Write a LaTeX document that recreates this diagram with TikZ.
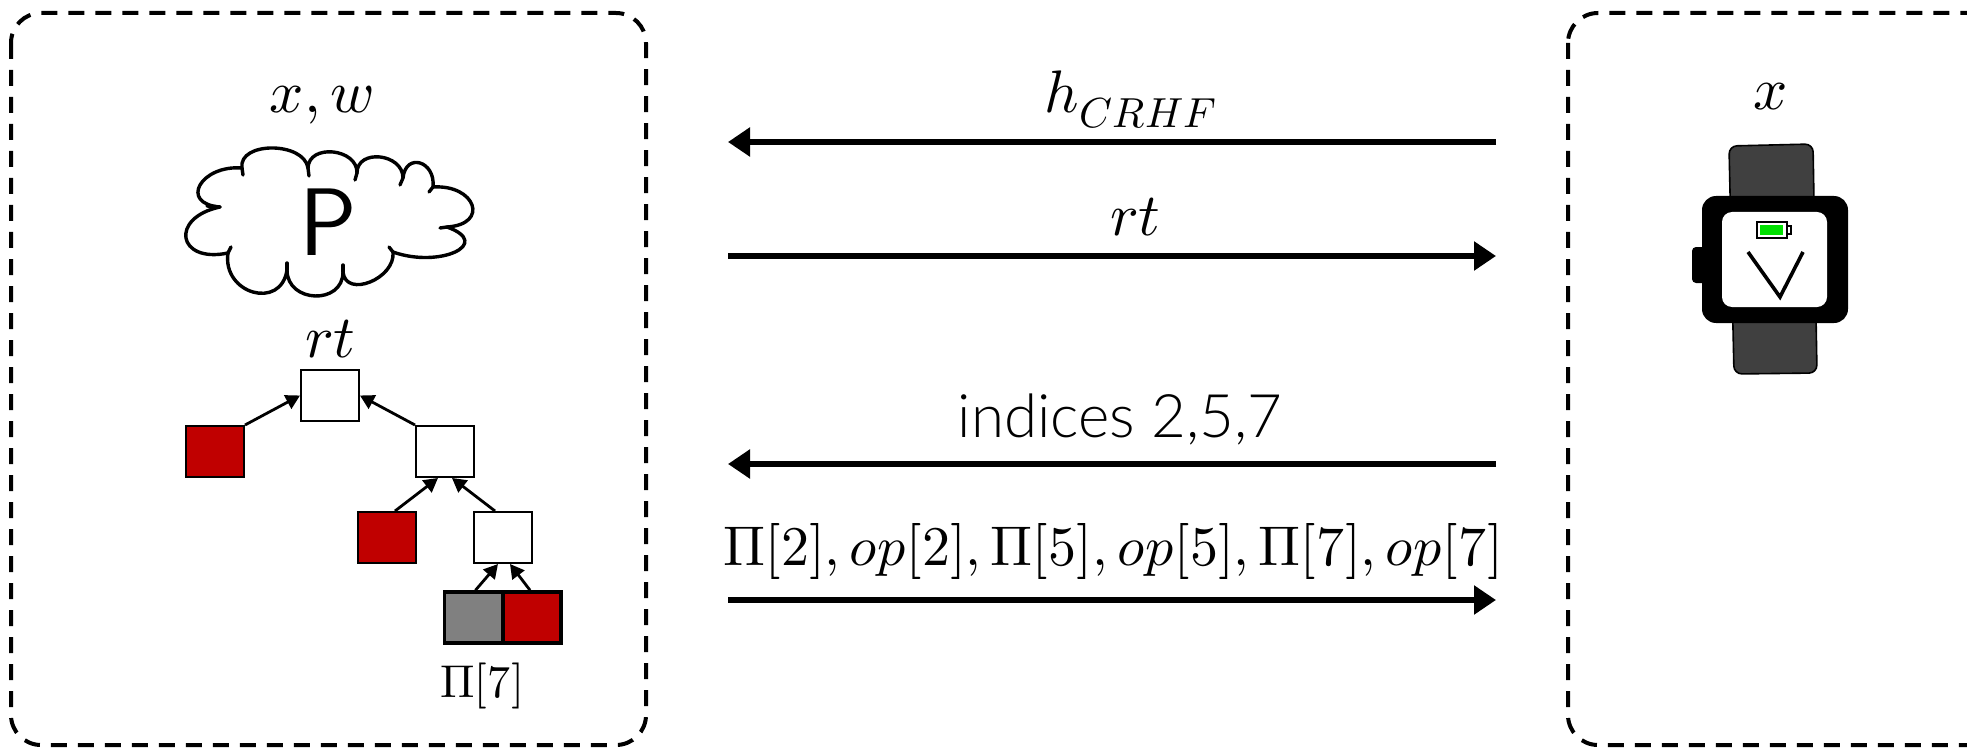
\documentclass[tikz,border=0pt]{standalone}
\usepackage{fontspec}
\usepackage{unicode-math}
\setmathfont{Latin Modern Math}
\newfontfamily\lightsf{Lato Light}
\usetikzlibrary{arrows.meta}
\definecolor{leafred}{HTML}{C00000}
\definecolor{sibgray}{HTML}{808080}
\definecolor{strapgray}{HTML}{404040}
\definecolor{battgreen}{HTML}{00E000}
\begin{document}
\begin{tikzpicture}[x=0.5pt,y=-0.5pt,
  party/.style={draw, line width=2pt, dash pattern=on 8pt off 5.5pt, rounded corners=15pt},
  msg/.style={line width=3.2pt, -{Triangle[length=11pt,width=14pt]}},
  treearrow/.style={line width=1.4pt, -{Triangle[length=7pt,width=7.5pt]}},
  hashbox/.style={draw, line width=1pt, minimum width=29pt, minimum height=25.5pt, inner sep=0pt},
  pathbox/.style={hashbox, line width=1.8pt},
  mathlbl/.style={anchor=base, inner sep=0pt, font=\fontsize{30}{36}\selectfont},
  textlbl/.style={anchor=base, inner sep=0pt, font=\fontsize{30}{36}\selectfont\lightsf},
  cloudline/.style={line width=1.7pt, line cap=round, line join=round}]
\useasboundingbox (0,0) rectangle (1967,749);
\clip (0,0) rectangle (1967,749);

% prover and verifier frames
\draw[party] (11,13) rectangle (646,745);
\draw[party] (1568,13) rectangle (2060,745);

% ---------- prover ----------
\node[mathlbl] (xw) at (322,113) {$x,w$};

% hand-drawn cloud
\draw[cloudline]
  (228,253) .. controls (177.3,263.7) and (169.3,217.7) .. (220,207)
  .. controls (178.7,203.7) and (200.7,164.7) .. (242,168)
  .. controls (238,141.3) and (304,141.3) .. (308,168)
  .. controls (308.7,143.3) and (357.7,148.3) .. (357,173)
  .. controls (357,148.3) and (403,153.3) .. (403,178)
  .. controls (405.7,152) and (435.7,161) .. (433,187)
  .. controls (475.7,184.3) and (489.7,224.3) .. (447,227)
  .. controls (493.7,243.7) and (439.7,268.7) .. (393,252)
  .. controls (395.7,278.7) and (345.7,298.7) .. (343,272)
  .. controls (343,305.3) and (287,303.3) .. (287,270)
  .. controls (281,310.7) and (222,293.7) .. (228,253) -- cycle;
% little inner strokes where the puffs meet
\draw[cloudline] (220,207) -- (207,206);
\draw[cloudline] (242,168) -- (243,175);
\draw[cloudline] (308,168) -- (309,176);
\draw[cloudline] (357,173) -- (355,180);
\draw[cloudline] (403,178) -- (400,185);
\draw[cloudline] (433,187) -- (429,192);
\draw[cloudline] (447,227) -- (440,228);
\draw[cloudline] (393,252) -- (389,247);
\draw[cloudline] (343,272) -- (343,265);
\draw[cloudline] (287,270) -- (287,263);
\draw[cloudline] (228,253) -- (231,247);
\node[inner sep=0pt, font=\fontsize{48}{56}\sffamily] (P) at (328,222) {P};

% Merkle tree
\node[mathlbl] (rtlbl) at (330,357) {$rt$};
\node[hashbox] (root) at (330,395.5) {};
\node[hashbox, fill=leafred] (s1) at (215,451.5) {};
\node[hashbox] (n1) at (445,451.5) {};
\node[hashbox, fill=leafred] (s2) at (386.5,537.5) {};
\node[hashbox] (n2) at (503,537.5) {};
\node[pathbox, fill=sibgray] (lf) at (473.5,617.5) {};
\node[pathbox, fill=leafred] (rf) at (532,617.5) {};
\draw[treearrow] (s1.north east) -- (root.west);
\draw[treearrow] (n1.north west) -- (root.east);
\draw[treearrow] ([xshift=4.25pt]s2.north) -- ([xshift=-3.5pt]n1.south);
\draw[treearrow] ([xshift=-4pt]n2.north) -- ([xshift=3.5pt]n1.south);
\draw[treearrow] ([xshift=1pt]lf.north) -- ([xshift=-2.5pt]n2.south);
\draw[treearrow] ([xshift=-1pt]rf.north) -- ([xshift=3.5pt]n2.south);
\node[mathlbl, font=\fontsize{23}{28}\selectfont] (pi7) at (482,697) {$\Pi[7]$};

% ---------- messages ----------
\coordinate (m1L) at (728,142); \coordinate (m1R) at (1496,142);
\coordinate (m2L) at (728,256); \coordinate (m2R) at (1496,256);
\coordinate (m3L) at (728,464); \coordinate (m3R) at (1496,464);
\coordinate (m4L) at (728,600); \coordinate (m4R) at (1496,600);
\draw[msg] (m1R) -- (m1L);
\draw[msg] (m2L) -- (m2R);
\draw[msg] (m3R) -- (m3L);
\draw[msg] (m4L) -- (m4R);
\node[mathlbl] (hlbl) at (1131,113) {$h_{CRHF}$};
\node[mathlbl] (rtmsg) at (1135,235) {$rt$};
\node[textlbl] (idx) at (1120,437) {indices 2,5,7};
\node[mathlbl, font=\fontsize{28}{34}\selectfont] (proofs) at (1113,565)
  {$\Pi[2],op[2],\Pi[5],op[5],\Pi[7],op[7]$};

% ---------- verifier (smartwatch) ----------
\node[mathlbl] (xv) at (1771,110) {$x$};
\draw[line width=0.8pt, fill=strapgray, rounded corners=4pt]
  (1729,146) -- (1813,144) -- (1817,373) -- (1734,374) -- cycle;
\fill[black, rounded corners=2pt] (1692,247) rectangle (1706,283);
\fill[black, rounded corners=7pt] (1702,196) rectangle (1848,323);
\fill[white, rounded corners=5pt] (1722,212) rectangle (1827,307);
\fill[battgreen] (1760,225) rectangle (1783,235);
\draw[line width=0.8pt] (1757,222) rectangle (1787,238);
\draw[line width=0.8pt] (1787,226) rectangle (1791,234);
\draw[line width=1.8pt, line join=miter] (1748,252) -- (1780,297) -- (1803,252);
\end{tikzpicture}
\end{document}
